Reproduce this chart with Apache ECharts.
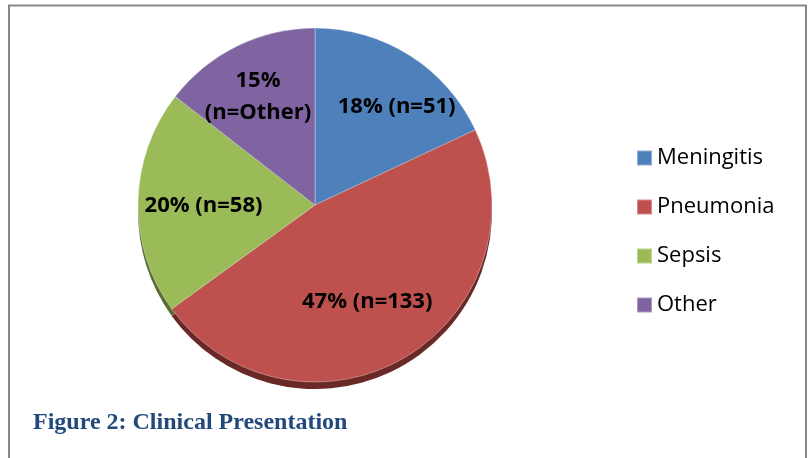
<!DOCTYPE html>
<html>
<head>
<meta charset="utf-8">
<title>Clinical Presentation</title>
<script src="https://cdn.jsdelivr.net/npm/echarts@6/dist/echarts.min.js"></script>
<style>
  html, body { margin: 0; padding: 0; background: #ffffff; }
  #chart { width: 812px; height: 458px; }
</style>
</head>
<body>
<div id="chart"></div>
<script>
// Clinical presentation of cases (counts per category)
const categories = ['Meningitis', 'Pneumonia', 'Sepsis', 'Other'];
const counts = [51, 133, 58, 41];
const percentLabels = ['18%', '47%', '20%', '15%'];
const countLabels = ['n=51', 'n=133', 'n=58', 'n=Other'];
const captionText = 'Figure 2: Clinical Presentation';

const faceColors = ['#4E80BC', '#BE504D', '#9BBB59', '#8064A2'];
const rimColors = ['#2c4a70', '#6a2826', '#5a6e31', '#4a3a60'];

// fine placement of each slice label relative to its default inside position
const labelNudge = {
  Meningitis: [17, 3],
  Pneumonia: [-9, -7],
  Sepsis: [9, 3],
  Other: [-4, 0]
};

const pieCenter = [315, 205];
const pieRadius = 177;

const sliceData = categories.map((name, i) => ({ name, value: counts[i] }));
const labelData = categories.map((name, i) => ({
  name,
  value: counts[i],
  label: { offset: labelNudge[name] }
}));

const chart = echarts.init(document.getElementById('chart'), null, { renderer: 'canvas' });

chart.setOption({
  backgroundColor: '#ffffff',
  animation: false,
  legend: {
    orient: 'vertical',
    left: 636,
    top: 147,
    padding: 0,
    icon: 'rect',
    itemWidth: 15,
    itemHeight: 15,
    itemGap: 27,
    selectedMode: false,
    data: categories,
    textStyle: {
      fontFamily: 'Open Sans',
      fontSize: 22,
      lineHeight: 22,
      color: '#000000'
    }
  },
  graphic: [
    {
      // frame around the figure (open at the bottom)
      type: 'polyline',
      silent: true,
      shape: { points: [[9, 458], [9, 5.5], [806, 5.5], [806, 458]] },
      style: { stroke: '#878787', lineWidth: 2, fill: null }
    },
    {
      type: 'text',
      left: 33,
      top: 411,
      silent: true,
      style: {
        text: captionText,
        fontFamily: 'Liberation Serif',
        fontWeight: 'bold',
        fontSize: 24,
        fill: '#23497c'
      }
    }
  ],
  series: [
    {
      // top face of the pie
      name: 'face',
      type: 'pie',
      z: 3,
      center: pieCenter,
      radius: [0, pieRadius],
      startAngle: 90,
      clockwise: true,
      silent: true,
      label: { show: false },
      labelLine: { show: false },
      itemStyle: {
        color: (p) => faceColors[p.dataIndex],
        borderColor: 'rgba(255,255,255,0.35)',
        borderWidth: 1
      },
      data: sliceData
    },
    {
      // darker edge showing beneath the face
      name: 'rim',
      type: 'pie',
      z: 2,
      center: [pieCenter[0], pieCenter[1] + 7],
      radius: [0, pieRadius],
      startAngle: 90,
      clockwise: true,
      silent: true,
      label: { show: false },
      labelLine: { show: false },
      itemStyle: { color: (p) => rimColors[p.dataIndex] },
      data: sliceData
    },
    {
      // transparent ring that carries the slice labels
      name: 'labels',
      type: 'pie',
      z: 4,
      center: pieCenter,
      radius: [58, pieRadius],
      startAngle: 90,
      clockwise: true,
      silent: true,
      itemStyle: { color: 'rgba(0,0,0,0)' },
      labelLine: { show: false },
      label: {
        show: true,
        position: 'inside',
        fontFamily: 'Open Sans',
        fontWeight: 'bold',
        fontSize: 22,
        lineHeight: 32,
        color: '#000000',
        formatter: (p) => {
          const i = p.dataIndex;
          const sep = categories[i] === 'Other' ? '\n' : ' ';
          return percentLabels[i] + sep + '(' + countLabels[i] + ')';
        }
      },
      data: labelData
    }
  ]
});
</script>
</body>
</html>
